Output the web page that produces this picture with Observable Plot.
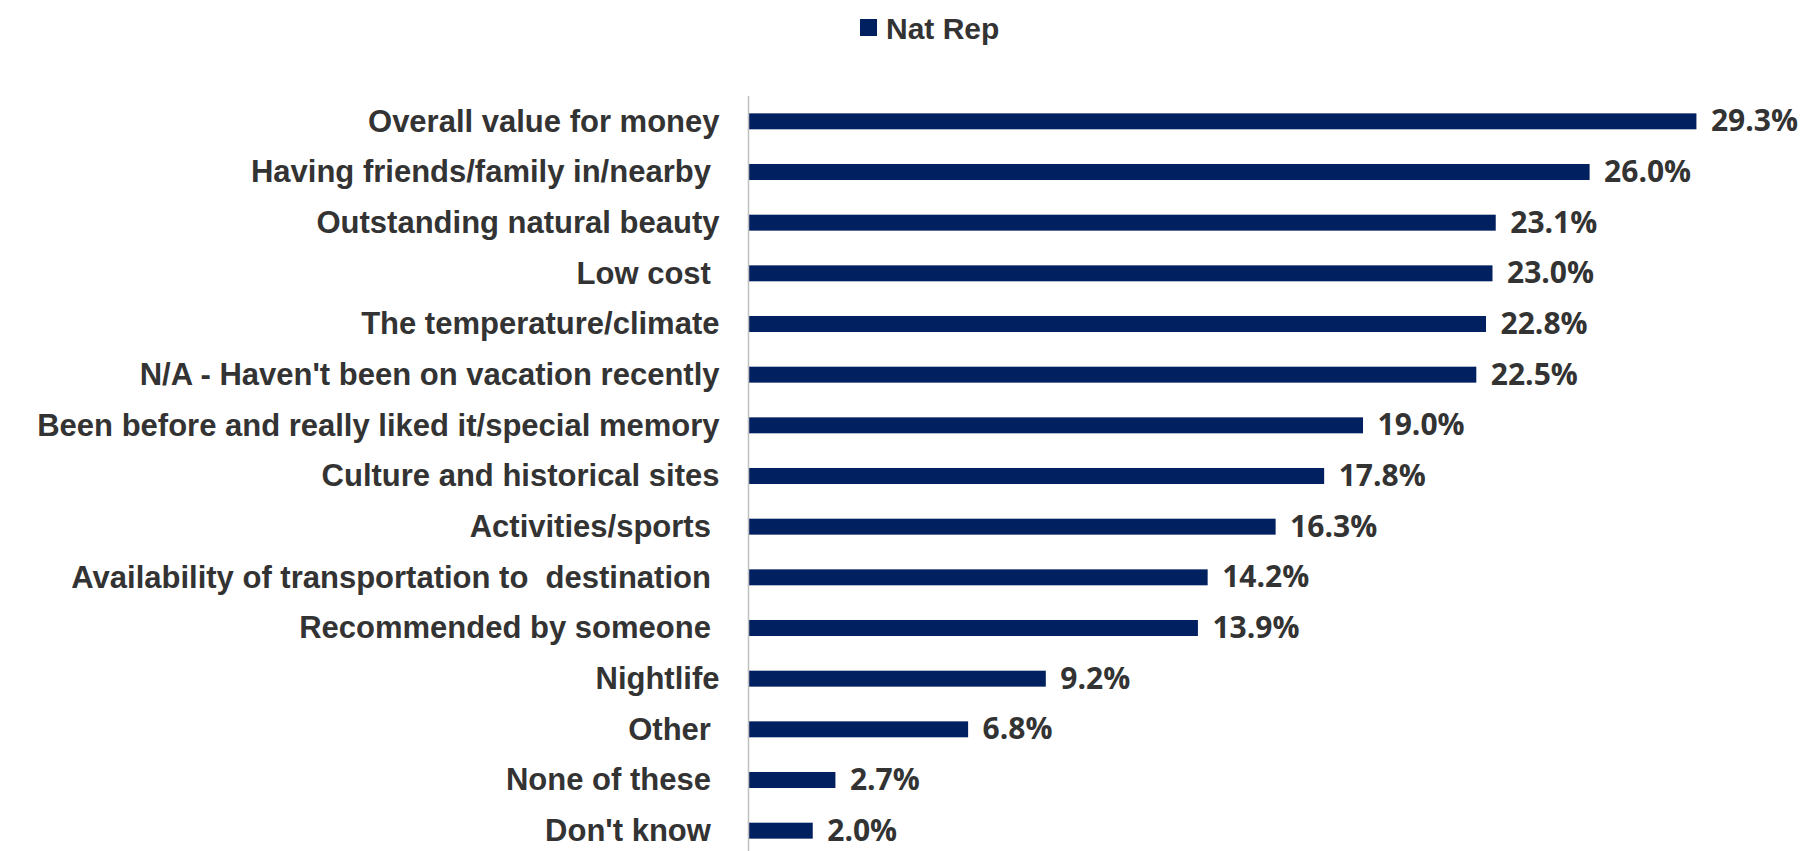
<!DOCTYPE html>
<html>
<head>
<meta charset="utf-8">
<script src="https://cdn.jsdelivr.net/npm/d3@7"></script>
<script src="https://cdn.jsdelivr.net/npm/@observablehq/plot@0.6"></script>
<style>
  html, body { margin: 0; padding: 0; background: #fff; overflow: hidden; }
  #legend { position: relative; height: 46px; width: 1800px; }
  #legend .sw { position: absolute; left: 860px; top: 19px; width: 17px; height: 17px; background: #002060; }
  #legend .lb { position: absolute; left: 886px; top: 12px; line-height: 30px; font: bold 30px "Liberation Sans", Arial, sans-serif; color: #333; }
  #chart svg text { white-space: pre; }
</style>
</head>
<body>
<div id="legend"><div class="sw"></div><div class="lb">Nat Rep</div></div>
<div id="chart"></div>
<script>
const categories = [
  "Overall value for money",
  "Having friends/family in/nearby ",
  "Outstanding natural beauty",
  "Low cost ",
  "The temperature/climate",
  "N/A - Haven't been on vacation recently",
  "Been before and really liked it/special memory",
  "Culture and historical sites",
  "Activities/sports ",
  "Availability of transportation to  destination ",
  "Recommended by someone ",
  "Nightlife",
  "Other ",
  "None of these ",
  "Don't know "
];
const values = [29.3, 26.0, 23.1, 23.0, 22.8, 22.5, 19.0, 17.8, 16.3, 14.2, 13.9, 9.2, 6.8, 2.7, 2.0];
const seriesName = "Nat Rep";

const data = categories.map((c, i) => ({category: c, value: values[i]}));

const chart = Plot.plot({
  width: 1800,
  height: 810,
  marginLeft: 748,
  marginRight: 0,
  marginTop: 50,
  marginBottom: 0,
  style: {fontFamily: "'Liberation Sans', Arial, sans-serif", fontSize: "31px", fontWeight: "bold", color: "#333", background: "#fff"},
  x: {domain: [0, 32.5], axis: null},
  y: {domain: categories, paddingInner: 0.685, paddingOuter: 0.3425, round: false, label: null},
  marks: [
    Plot.axisY({tickSize: 0, tickPadding: 29, label: null, fill: "#333"}),
    Plot.barX(data, {x: "value", y: "category", fill: "#002060"}),
    Plot.ruleX([0], {stroke: "#bfbfbf", strokeWidth: 1.5}),
    Plot.text(data, {
      x: "value", y: "category",
      text: d => d.value.toFixed(1) + "%",
      textAnchor: "start", dx: 14,
      fontFamily: "'Open Sans', sans-serif", fontSize: 30, fontWeight: 700,
      fill: "#333"
    })
  ]
});
document.getElementById("chart").appendChild(chart);
</script>
</body>
</html>
